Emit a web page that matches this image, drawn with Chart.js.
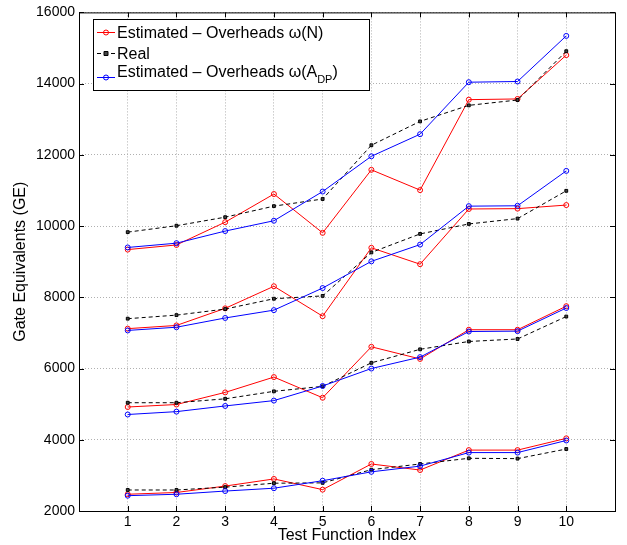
<!DOCTYPE html>
<html>
<head>
<meta charset="utf-8">
<script src="https://cdn.jsdelivr.net/npm/chart.js@4.4.0/dist/chart.umd.min.js"></script>
<style>
  body { margin: 0; background: #fff; }
  #wrap { width: 627px; height: 545px; }
</style>
</head>
<body>
<div id="wrap"><canvas id="myChart" width="627" height="545"></canvas></div>
<script>
const testIndex = [1, 2, 3, 4, 5, 6, 7, 8, 9, 10];
const xTicks = [1, 2, 3, 4, 5, 6, 7, 8, 9, 10];
const seriesLabels = ['Estimated \u2013 Overheads \u03C9(N)', 'Real', 'Estimated \u2013 Overheads \u03C9(A_{DP})'];

// four configurations, lowest first
const estN1 = [2470, 2520, 2700, 2900, 2600, 3320, 3150, 3710, 3710, 4040];
const real1 = [2590, 2590, 2670, 2780, 2790, 3160, 3320, 3480, 3470, 3740];
const estA1 = [2430, 2470, 2560, 2640, 2850, 3100, 3260, 3640, 3640, 3980];

const estN2 = [4920, 4990, 5330, 5760, 5180, 6610, 6270, 7090, 7090, 7750];
const real2 = [5040, 5040, 5150, 5360, 5500, 6160, 6540, 6760, 6830, 7460];
const estA2 = [4710, 4790, 4950, 5100, 5510, 6000, 6320, 7040, 7050, 7700];

const estN3 = [7120, 7210, 7690, 8310, 7470, 9390, 8930, 10480, 10490, 10590];
const real3 = [7400, 7500, 7670, 7960, 8040, 9260, 9780, 10060, 10210, 10990];
const estA3 = [7070, 7160, 7420, 7640, 8260, 9010, 9480, 10560, 10570, 11550];

const estN4 = [9340, 9470, 10110, 10900, 9810, 11580, 11010, 13550, 13570, 14800];
const real4 = [9830, 10010, 10250, 10560, 10760, 12270, 12940, 13390, 13540, 14910];
const estA4 = [9400, 9520, 9860, 10150, 10970, 11960, 12580, 14040, 14060, 15340];

const FONT = '"Liberation Sans", Arial, Helvetica, sans-serif';

function pts(values) {
  return values.map((v, i) => ({ x: testIndex[i], y: v }));
}

function estNSet(values) {
  return {
    label: seriesLabels[0], data: pts(values),
    borderColor: '#ff0000', backgroundColor: 'rgba(255,255,255,0)',
    borderWidth: 1, pointStyle: 'circle', pointRadius: 2.5,
    pointBorderWidth: 1, order: 2
  };
}
function realSet(values) {
  return {
    label: seriesLabels[1], data: pts(values),
    borderColor: '#000000', backgroundColor: '#444444',
    borderWidth: 1, borderDash: [4, 3], pointStyle: 'rect', pointRadius: 2,
    pointBorderWidth: 1, order: 1
  };
}
function estASet(values) {
  return {
    label: seriesLabels[2], data: pts(values),
    borderColor: '#0000ff', backgroundColor: 'rgba(255,255,255,0)',
    borderWidth: 1, pointStyle: 'circle', pointRadius: 2.5,
    pointBorderWidth: 1, order: 0
  };
}

const datasets = [
  estNSet(estN1), realSet(real1), estASet(estA1),
  estNSet(estN2), realSet(real2), estASet(estA2),
  estNSet(estN3), realSet(real3), estASet(estA3),
  estNSet(estN4), realSet(real4), estASet(estA4)
];

// axes box with inward tick marks
const framePlugin = {
  id: 'frame',
  afterDatasetsDraw(chart) {
    const { ctx, chartArea: a, scales: { x, y } } = chart;
    ctx.save();
    ctx.strokeStyle = '#000';
    ctx.lineWidth = 1;
    ctx.strokeRect(a.left + 0.5, a.top + 0.5, a.right - a.left, a.bottom - a.top);
    ctx.beginPath();
    xTicks.forEach(v => {
      const px = Math.round(x.getPixelForValue(v)) + 0.5;
      ctx.moveTo(px, a.bottom); ctx.lineTo(px, a.bottom - 5);
      ctx.moveTo(px, a.top); ctx.lineTo(px, a.top + 5);
    });
    y.ticks.forEach(t => {
      const py = Math.round(y.getPixelForValue(t.value)) + 0.5;
      ctx.moveTo(a.left, py); ctx.lineTo(a.left + 5, py);
      ctx.moveTo(a.right, py); ctx.lineTo(a.right - 5, py);
    });
    ctx.stroke();
    ctx.restore();
  }
};

// legend box, drawn by hand so the subscript can be shown
const legendPlugin = {
  id: 'boxLegend',
  afterDraw(chart) {
    const ctx = chart.ctx;
    const bx = 93.5, by = 19.5, bw = 276, bh = 71;
    ctx.save();
    ctx.fillStyle = '#fff';
    ctx.fillRect(bx, by, bw, bh);
    ctx.strokeStyle = '#000';
    ctx.lineWidth = 1;
    ctx.strokeRect(bx, by, bw, bh);

    const rows = [
      { ds: chart.data.datasets[0], lineY: 32, baseY: 38 },
      { ds: chart.data.datasets[1], lineY: 53, baseY: 58.5 },
      { ds: chart.data.datasets[2], lineY: 77, baseY: 76.5 }
    ];
    rows.forEach(r => {
      const ds = r.ds;
      ctx.strokeStyle = ds.borderColor;
      ctx.lineWidth = 1;
      ctx.setLineDash(ds.borderDash || []);
      ctx.beginPath();
      ctx.moveTo(97, r.lineY + 0.5); ctx.lineTo(115, r.lineY + 0.5);
      ctx.stroke();
      ctx.setLineDash([]);
      ctx.fillStyle = ds.backgroundColor;
      ctx.beginPath();
      if (ds.pointStyle === 'rect') {
        ctx.rect(104, r.lineY - 1.5, 4, 4);
      } else {
        ctx.arc(106, r.lineY + 0.5, 2.5, 0, Math.PI * 2);
      }
      ctx.fill();
      ctx.stroke();

      ctx.fillStyle = '#000';
      ctx.textBaseline = 'alphabetic';
      ctx.textAlign = 'left';
      const m = ds.label.match(/^(.*)_\{(.*)\}(.*)$/);
      let tx = 117;
      if (m) {
        ctx.font = '16px ' + FONT;
        ctx.fillText(m[1], tx, r.baseY);
        tx += ctx.measureText(m[1]).width;
        ctx.font = '11px ' + FONT;
        ctx.fillText(m[2], tx, r.baseY + 6);
        tx += ctx.measureText(m[2]).width;
        ctx.font = '16px ' + FONT;
        ctx.fillText(m[3], tx, r.baseY);
      } else {
        ctx.font = '16px ' + FONT;
        ctx.fillText(ds.label, tx, r.baseY);
      }
    });
    ctx.restore();
  }
};

const ctx = document.getElementById('myChart').getContext('2d');
new Chart(ctx, {
  type: 'line',
  data: { datasets: datasets },
  options: {
    responsive: false,
    animation: false,
    layout: { padding: { top: 10, right: 12, left: 0, bottom: 0 } },
    plugins: { legend: { display: false }, tooltip: { enabled: false } },
    scales: {
      x: {
        type: 'linear', min: 0, max: 11,
        afterFit: s => { s.height = 34; },
        ticks: {
          stepSize: 1, autoSkip: false, maxRotation: 0, padding: 3,
          color: '#000', font: { family: FONT, size: 14 },
          callback: v => (xTicks.includes(v) ? String(v) : '')
        },
        grid: { color: '#b0b0b0', lineWidth: 1, drawTicks: false },
        border: { display: false, dash: [1, 2] },
        title: {
          display: true, text: 'Test Function Index', color: '#000',
          font: { family: FONT, size: 16 }, padding: { top: 0, bottom: 0 }
        }
      },
      y: {
        min: 2000, max: 16000,
        afterFit: s => { s.width = 79; },
        ticks: {
          stepSize: 2000, padding: 4,
          color: '#000', font: { family: FONT, size: 14 },
          callback: v => String(v)
        },
        grid: { color: '#b0b0b0', lineWidth: 1, drawTicks: false },
        border: { display: false, dash: [1, 2] },
        title: {
          display: true, text: 'Gate Equivalents (GE)', color: '#000',
          font: { family: FONT, size: 16 }, padding: { top: 11, bottom: 0 }
        }
      }
    }
  },
  plugins: [framePlugin, legendPlugin]
});
</script>
</body>
</html>
